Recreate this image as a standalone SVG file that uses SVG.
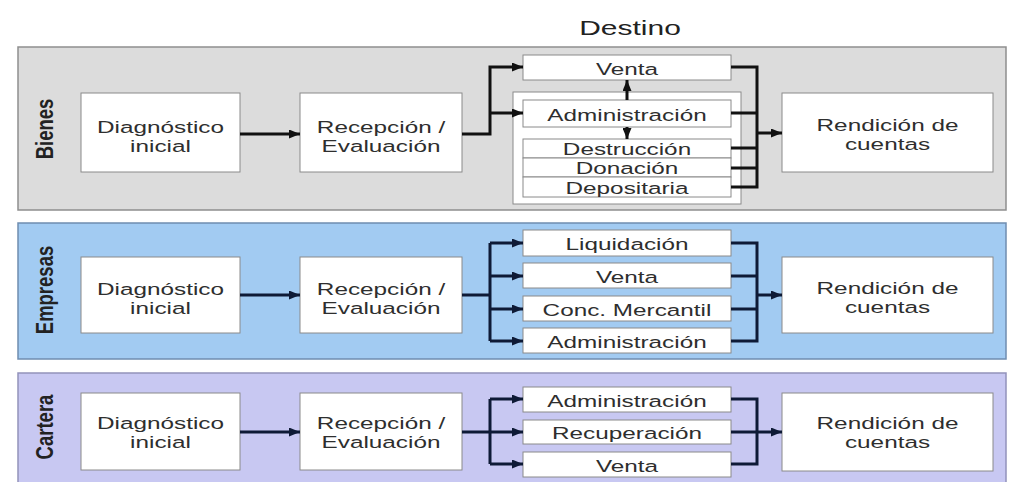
<svg xmlns="http://www.w3.org/2000/svg" width="1011" height="482" viewBox="0 0 1011 482">
<defs>
<style>
.bg{fill:#ffffff}
.pb{fill:#dcdcdc;stroke:#8e8e8e;stroke-width:1.5}
.pe{fill:#a2cbf2;stroke:#6f8db0;stroke-width:1.5}
.pc{fill:#c8c8f2;stroke:#9292bb;stroke-width:1.5}
.box{fill:#ffffff;stroke:#8a8a8a;stroke-width:1}
.t{font-family:"Liberation Sans",Arial,sans-serif;font-size:17px;fill:#2e2e2e;text-anchor:middle}
.lbl{font-family:"Liberation Sans",Arial,sans-serif;font-size:18.5px;font-weight:bold;fill:#222;text-anchor:middle}
.ttl{font-family:"Liberation Sans",Arial,sans-serif;font-size:20px;fill:#222;text-anchor:middle}
.c{fill:none;stroke:#111;stroke-width:3}
.cn{fill:none;stroke:#0e1a36;stroke-width:3}
</style>
<marker id="ah" markerUnits="userSpaceOnUse" markerWidth="11" markerHeight="9" refX="11" refY="4.5" orient="auto">
<path d="M0,0 L11,4.5 L0,9 z" fill="#111"/>
</marker>
<marker id="ahn" markerUnits="userSpaceOnUse" markerWidth="11" markerHeight="9" refX="11" refY="4.5" orient="auto">
<path d="M0,0 L11,4.5 L0,9 z" fill="#0e1a36"/>
</marker>
</defs>
<rect class="bg" x="0" y="0" width="1011" height="482"/>
<g id="title"><text class="ttl" transform="translate(630 35) scale(1.5 1)">Destino</text></g>

<g id="panel-bienes">
<rect class="pb" x="18" y="47" width="988" height="163"/>
<text class="lbl" transform="translate(44 129) scale(1.31 1) rotate(-90)" x="0" y="6.5">Bienes</text>
</g>
<g id="panel-empresas">
<rect class="pe" x="18" y="223" width="988" height="136"/>
<text class="lbl" transform="translate(44 290) scale(1.31 1) rotate(-90)" x="0" y="6.5">Empresas</text>
</g>
<g id="panel-cartera">
<rect class="pc" x="18" y="373" width="988" height="118"/>
<text class="lbl" transform="translate(44 427) scale(1.31 1) rotate(-90)" x="0" y="6.5">Cartera</text>
</g>

<!-- Bienes nodes -->
<g id="b-diag"><rect class="box" x="81" y="93" width="159" height="79"/>
<text class="t" transform="translate(160.5 133) scale(1.43 1)">Diagnóstico</text>
<text class="t" transform="translate(160.5 152) scale(1.43 1)">inicial</text></g>
<g id="b-recep"><rect class="box" x="300" y="93" width="162" height="79"/>
<text class="t" transform="translate(381 133) scale(1.43 1)">Recepción /</text>
<text class="t" transform="translate(381 152) scale(1.43 1)">Evaluación</text></g>
<g id="b-venta"><rect class="box" x="523" y="55" width="208" height="25"/>
<text class="t" transform="translate(627 74.5) scale(1.43 1)">Venta</text></g>
<g id="b-grupo"><rect class="box" x="513" y="92" width="228" height="112"/></g>
<g id="b-admin"><rect class="box" x="523" y="100" width="208" height="27"/>
<text class="t" transform="translate(627 120.5) scale(1.43 1)">Administración</text></g>
<g id="b-destr"><rect class="box" x="523" y="139" width="208" height="19"/>
<text class="t" transform="translate(627 155) scale(1.43 1)">Destrucción</text></g>
<g id="b-donac"><rect class="box" x="523" y="158" width="208" height="19"/>
<text class="t" transform="translate(627 174) scale(1.43 1)">Donación</text></g>
<g id="b-depos"><rect class="box" x="523" y="177" width="208" height="20"/>
<text class="t" transform="translate(627 193.5) scale(1.43 1)">Depositaria</text></g>
<g id="b-rend"><rect class="box" x="782" y="93" width="211" height="79"/>
<text class="t" transform="translate(887.5 131) scale(1.43 1)">Rendición de</text>
<text class="t" transform="translate(887.5 150) scale(1.43 1)">cuentas</text></g>

<!-- Empresas nodes -->
<g id="e-diag"><rect class="box" x="81" y="257" width="159" height="76"/>
<text class="t" transform="translate(160.5 295) scale(1.43 1)">Diagnóstico</text>
<text class="t" transform="translate(160.5 314) scale(1.43 1)">inicial</text></g>
<g id="e-recep"><rect class="box" x="300" y="257" width="162" height="76"/>
<text class="t" transform="translate(381 295) scale(1.43 1)">Recepción /</text>
<text class="t" transform="translate(381 314) scale(1.43 1)">Evaluación</text></g>
<g id="e-liq"><rect class="box" x="523" y="230" width="208" height="26"/>
<text class="t" transform="translate(627 249.5) scale(1.43 1)">Liquidación</text></g>
<g id="e-venta"><rect class="box" x="523" y="263" width="208" height="25"/>
<text class="t" transform="translate(627 282.5) scale(1.43 1)">Venta</text></g>
<g id="e-conc"><rect class="box" x="523" y="296" width="208" height="25"/>
<text class="t" transform="translate(627 315.5) scale(1.43 1)">Conc. Mercantil</text></g>
<g id="e-admin"><rect class="box" x="523" y="328" width="208" height="25"/>
<text class="t" transform="translate(627 347.5) scale(1.43 1)">Administración</text></g>
<g id="e-rend"><rect class="box" x="782" y="257" width="211" height="76"/>
<text class="t" transform="translate(887.5 293.5) scale(1.43 1)">Rendición de</text>
<text class="t" transform="translate(887.5 312.5) scale(1.43 1)">cuentas</text></g>

<!-- Cartera nodes -->
<g id="c-diag"><rect class="box" x="81" y="393" width="159" height="77"/>
<text class="t" transform="translate(160.5 428.5) scale(1.43 1)">Diagnóstico</text>
<text class="t" transform="translate(160.5 447.5) scale(1.43 1)">inicial</text></g>
<g id="c-recep"><rect class="box" x="300" y="393" width="162" height="77"/>
<text class="t" transform="translate(381 428.5) scale(1.43 1)">Recepción /</text>
<text class="t" transform="translate(381 447.5) scale(1.43 1)">Evaluación</text></g>
<g id="c-admin"><rect class="box" x="523" y="387" width="208" height="25"/>
<text class="t" transform="translate(627 406.5) scale(1.43 1)">Administración</text></g>
<g id="c-recup"><rect class="box" x="523" y="420" width="208" height="24"/>
<text class="t" transform="translate(627 439) scale(1.43 1)">Recuperación</text></g>
<g id="c-venta"><rect class="box" x="523" y="452" width="208" height="25"/>
<text class="t" transform="translate(627 471.5) scale(1.43 1)">Venta</text></g>
<g id="c-rend"><rect class="box" x="782" y="393" width="211" height="78"/>
<text class="t" transform="translate(887.5 428.5) scale(1.43 1)">Rendición de</text>
<text class="t" transform="translate(887.5 447.5) scale(1.43 1)">cuentas</text></g>

<g id="connectors">
<!-- Bienes -->
<path class="c" d="M240,134 H300" marker-end="url(#ah)"/>
<path class="c" d="M462,134 H490 V67 H523" marker-end="url(#ah)"/>
<path class="c" d="M490,113 H523" marker-end="url(#ah)"/>
<path class="c" d="M627,100 V80" marker-end="url(#ah)"/>
<path class="c" d="M627,127 V139" marker-end="url(#ah)"/>
<path class="c" d="M731,67 H757 V187 H731"/>
<path class="c" d="M731,113 H757 M731,148 H757 M731,168 H757"/>
<path class="c" d="M757,133 H782" marker-end="url(#ah)"/>
<!-- Empresas -->
<path class="cn" d="M240,295 H300" marker-end="url(#ahn)"/>
<path class="cn" d="M462,295 H490 M490,243 V341"/>
<path class="cn" d="M490,243 H523" marker-end="url(#ahn)"/>
<path class="cn" d="M490,276 H523" marker-end="url(#ahn)"/>
<path class="cn" d="M490,309 H523" marker-end="url(#ahn)"/>
<path class="cn" d="M490,341 H523" marker-end="url(#ahn)"/>
<path class="cn" d="M731,243 H757 V341 H731 M731,276 H757 M731,309 H757"/>
<path class="cn" d="M757,295 H782" marker-end="url(#ahn)"/>
<!-- Cartera -->
<path class="cn" d="M240,432 H300" marker-end="url(#ahn)"/>
<path class="cn" d="M462,432 H490 M490,399 V464"/>
<path class="cn" d="M490,399 H523" marker-end="url(#ahn)"/>
<path class="cn" d="M490,432 H523" marker-end="url(#ahn)"/>
<path class="cn" d="M490,464 H523" marker-end="url(#ahn)"/>
<path class="cn" d="M731,399 H757 V464 H731 M731,432 H757"/>
<path class="cn" d="M757,432 H782" marker-end="url(#ahn)"/>
</g>
</svg>
